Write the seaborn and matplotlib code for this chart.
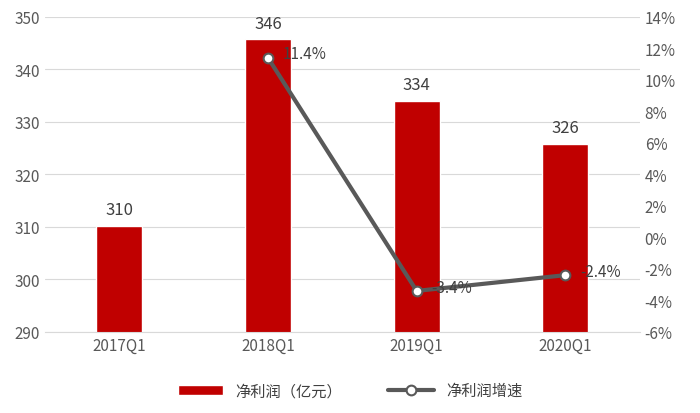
import numpy as np
import pandas as pd
import matplotlib
matplotlib.use("Agg")
import matplotlib.pyplot as plt
import seaborn as sns
from matplotlib.ticker import FuncFormatter

quarters = ["2017Q1", "2018Q1", "2019Q1", "2020Q1"]
profit = [310.2, 345.7, 334.0, 325.8]
profit_labels = ["310", "346", "334", "326"]
growth_quarters = [1, 2, 3]
growth = [11.4, -3.4, -2.4]
growth_labels = ["11.4%", "-3.4%", "-2.4%"]

sns.set_style("white")
plt.rcParams["font.family"] = ["Noto Sans CJK SC", "DejaVu Sans"]

df = pd.DataFrame({"quarter": quarters, "profit": profit})
fig = plt.figure(figsize=(7, 4.14), dpi=100)
ax = fig.add_axes([0.064, 0.196, 0.85, 0.761])
sns.barplot(data=df, x="quarter", y="profit", color="#C00000", width=0.31,
            saturation=1, ax=ax, label="净利润（亿元）")
ax.set_ylim(290, 350)
ax.set_yticks(range(290, 351, 10))
ax.set_xlabel(""); ax.set_ylabel("")
ax.yaxis.grid(True, color="#D9D9D9", linewidth=0.8)
ax.set_axisbelow(True)
for s in ax.spines.values():
    s.set_visible(False)
ax.spines["bottom"].set_visible(True); ax.spines["bottom"].set_color("#D9D9D9")
ax.tick_params(length=0, labelsize=11, colors="#595959")
for i, (v, t) in enumerate(zip(profit, profit_labels)):
    ax.text(i, v + 1.5, t, ha="center", va="bottom", fontsize=12, color="#404040")

ax2 = ax.twinx()
gdf = pd.DataFrame({"x": growth_quarters, "g": growth})
sns.lineplot(data=gdf, x="x", y="g", ax=ax2, color="#595959", linewidth=3,
             marker="o", markersize=7, markerfacecolor="white",
             markeredgecolor="#595959", markeredgewidth=1.5, label="净利润增速")
ax2.set_ylim(-6, 14)
ax2.set_yticks(range(-6, 15, 2))
ax2.yaxis.set_major_formatter(FuncFormatter(lambda v, p: f"{int(v)}%"))
ax2.set_xlabel(""); ax2.set_ylabel("")
for s in ax2.spines.values():
    s.set_visible(False)
ax2.tick_params(length=0, labelsize=11, colors="#595959")
for x, g, t in zip(growth_quarters, growth, growth_labels):
    ax2.text(x + 0.1, g - 0.3, t, ha="left", va="bottom", fontsize=11, color="#404040")
ax.set_xlim(-0.5, 3.5)

h1, l1 = ax.get_legend_handles_labels()
h2, l2 = ax2.get_legend_handles_labels()
ax2.legend_.remove() if ax2.legend_ else None
if ax.legend_:
    ax.legend_.remove()
fig.legend(h1 + h2, l1 + l2, loc="lower center", ncol=2, frameon=False,
           bbox_to_anchor=(0.5, 0.0), fontsize=11, handlelength=3, columnspacing=3,
           labelcolor="#404040")

fig.savefig("out.png", dpi=100)
